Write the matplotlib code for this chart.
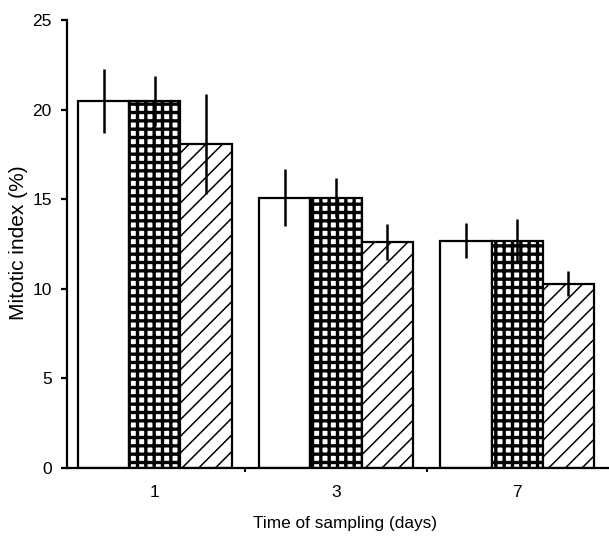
import matplotlib
matplotlib.use("Agg")
import matplotlib.pyplot as plt
import numpy as np

# data
days = ["1", "3", "7"]
control = [20.5, 15.1, 12.7]
control_err = [1.8, 1.6, 1.0]
grid_group = [20.5, 15.1, 12.7]
grid_err = [1.4, 1.1, 1.2]
hatch_group = [18.1, 12.6, 10.3]
hatch_err = [2.8, 1.0, 0.7]

plt.rcParams['font.family'] = ['Liberation Sans', 'DejaVu Sans']

fig = plt.figure(figsize=(6.09, 5.36), dpi=100)
ax = fig.add_axes([0.110, 0.127, 0.890, 0.835])

x = np.arange(len(days))
w = 0.282
series = [
    (control, control_err, '', 1.6),
    (grid_group, grid_err, '++', 2.4),
    (hatch_group, hatch_err, '//', 1.1),
]
for i, (vals, errs, hatch, hlw) in enumerate(series):
    with plt.rc_context({'hatch.linewidth': hlw}):
        bars = ax.bar(x + (i - 1) * w, vals, w, color='white', edgecolor='black',
                      linewidth=1.6, hatch=hatch, zorder=2)
        for b in bars:
            if hasattr(b, 'set_hatch_linewidth'):
                b.set_hatch_linewidth(hlw)
    ax.errorbar(x + (i - 1) * w, vals, yerr=errs, fmt='none', ecolor='black',
                elinewidth=1.8, capsize=0, zorder=3)

ax.set_xlim(-0.486, 2.508)
ax.set_ylim(0, 25)
ax.set_yticks([0, 5, 10, 15, 20, 25])
ax.set_xticks(x)
ax.set_xticklabels(days)
ax.set_xticks([0.5, 1.5], minor=True)

for s in ['top', 'right']:
    ax.spines[s].set_visible(False)
for s in ['left', 'bottom']:
    ax.spines[s].set_linewidth(1.6)

ax.tick_params(axis='y', direction='out', length=4, width=1.6, pad=7, labelsize=12.5)
ax.tick_params(axis='x', which='major', length=0, pad=12, labelsize=12.5)
ax.tick_params(axis='x', which='minor', direction='out', length=3, width=1.4)

ax.set_ylabel('Mitotic index (%)', fontsize=15)
ax.set_xlabel('Time of sampling (days)', fontsize=12.4)
ax.yaxis.set_label_coords(-0.072, 0.503)
ax.xaxis.set_label_coords(0.513, -0.108)

fig.savefig('out.png', dpi=100)
